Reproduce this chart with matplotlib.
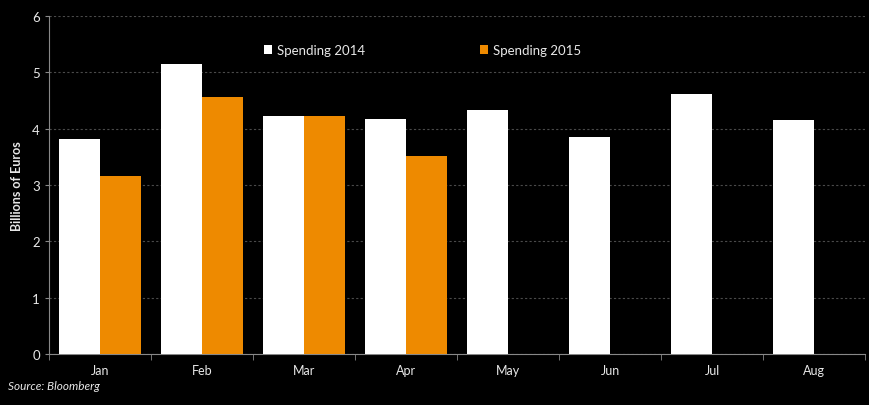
import numpy as np
import matplotlib
matplotlib.use("Agg")
import matplotlib.pyplot as plt

months = ['Jan', 'Feb', 'Mar', 'Apr', 'May', 'Jun', 'Jul', 'Aug']
spend_2014 = [3.81, 5.14, 4.23, 4.17, 4.33, 3.85, 4.62, 4.15]
spend_2015 = [3.16, 4.56, 4.22, 3.51]

plt.rcParams['font.family'] = ['Lato', 'DejaVu Sans']
txt = '#e8e8e8'
orange = '#ee8a00'

fig = plt.figure(figsize=(8.69, 4.06), dpi=100, facecolor='black')
ax = fig.add_axes([0.0564, 0.1256, 0.939, 0.8324], facecolor='black')

x = np.arange(len(months))
ax.bar(x - 0.2, spend_2014, width=0.4, color='white', zorder=3, label='Spending 2014')
ax.bar(x[:len(spend_2015)] + 0.2, spend_2015, width=0.4, color=orange, zorder=3, label='Spending 2015')

ax.set_xlim(-0.5, len(months) - 0.5)
ax.set_ylim(0, 6)
ax.set_yticks(range(7))
ax.yaxis.grid(True, color='#4a4a4a', linestyle=(0, (2, 2)), linewidth=0.8, zorder=0)

ax.set_xticks(x)
ax.set_xticklabels(months)
ax.set_xticks(np.arange(-0.5, len(months)), minor=True)
ax.tick_params(axis='x', which='major', length=0, pad=7, colors=txt, labelsize=9)
ax.tick_params(axis='x', which='minor', length=4, color='#888888', direction='out')
ax.tick_params(axis='y', length=3, color='#888888', colors=txt, labelsize=9.5)

for s in ['top', 'right']:
    ax.spines[s].set_visible(False)
for s in ['left', 'bottom']:
    ax.spines[s].set_color('#888888')
    ax.spines[s].set_linewidth(0.8)

ax.set_ylabel('Billions of Euros', color=txt, fontsize=9, fontweight='bold')
ax.yaxis.set_label_coords(-0.032, 0.5)

leg = ax.legend(loc='upper left', bbox_to_anchor=(0.249, 0.952), ncol=2, frameon=False,
                fontsize=9.5, handlelength=0.6, handleheight=0.6, columnspacing=8.7,
                handletextpad=0.4, labelcolor=txt)

fig.text(0.009, 0.04, 'Source: Bloomberg', color=txt, fontsize=8.5, style='italic')

fig.savefig('out.png', dpi=100, facecolor='black')
